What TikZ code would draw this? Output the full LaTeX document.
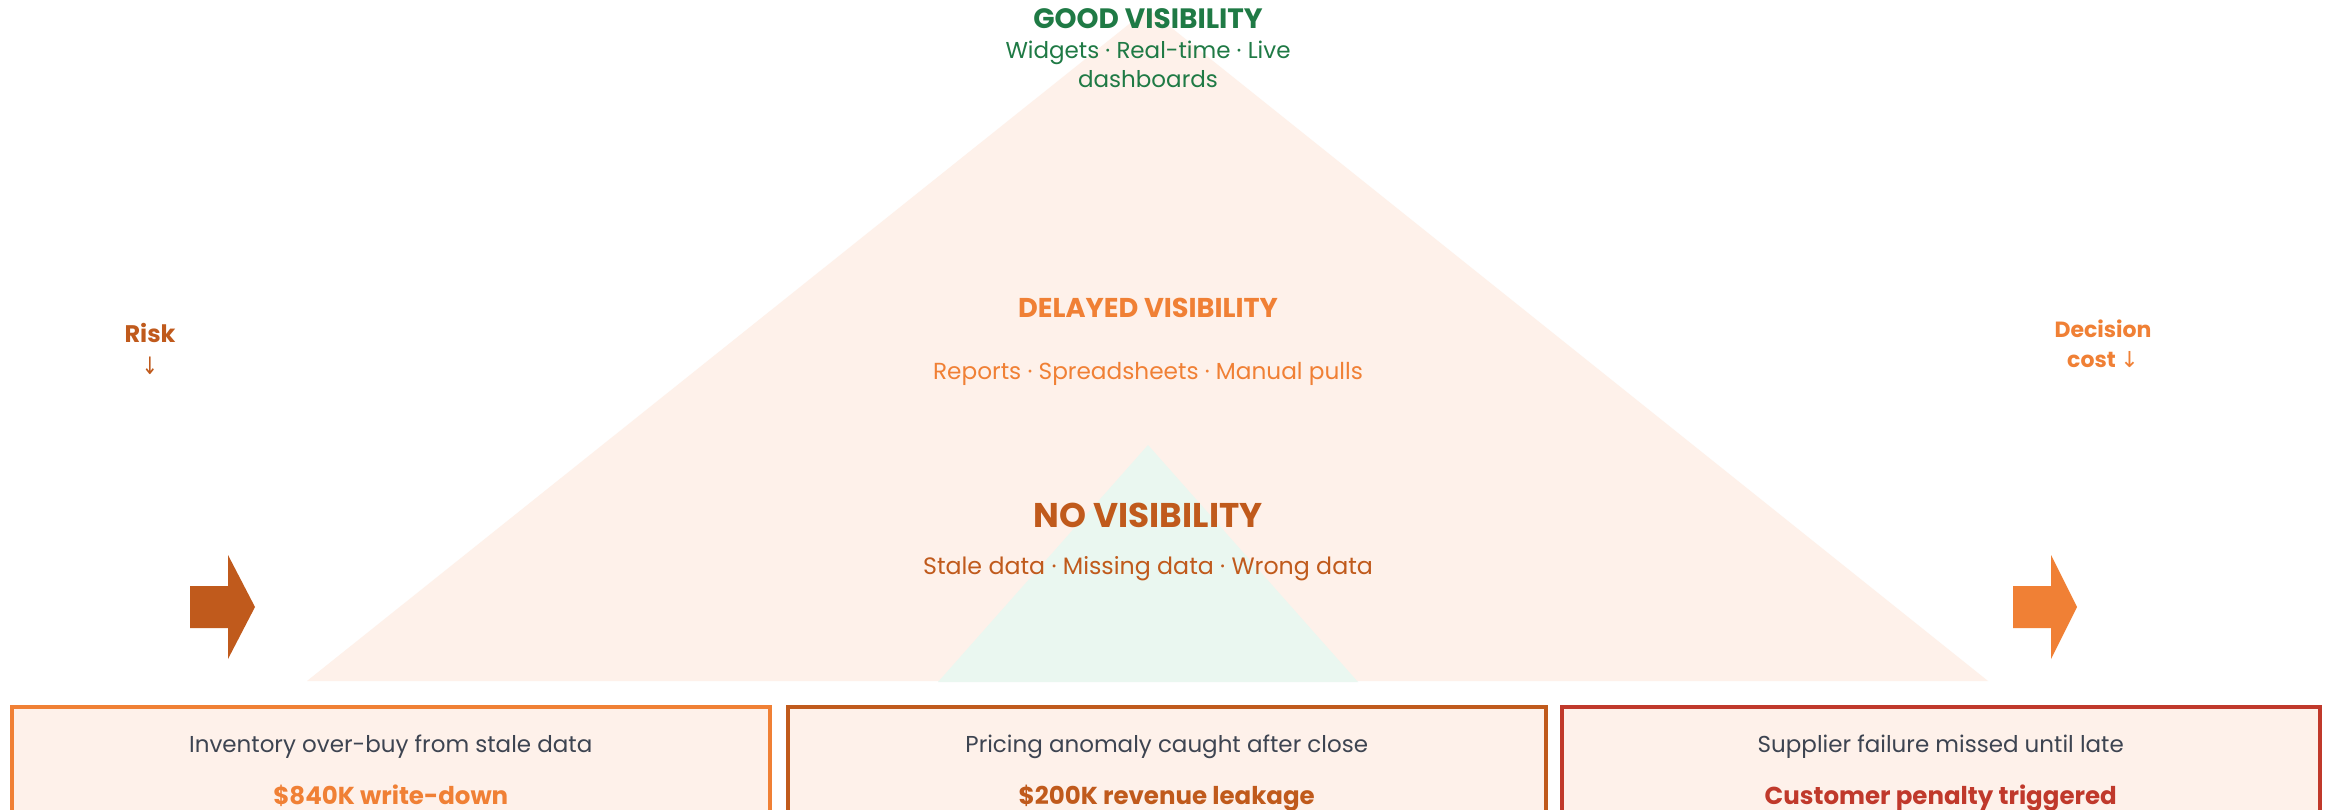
\documentclass[tikz,border=0pt]{standalone}
\usepackage{fontspec}
\setmainfont{Poppins}
\newfontfamily\arrowfont{DejaVu Sans}
\definecolor{peach}{HTML}{FEF1EA}
\definecolor{mint}{HTML}{EAF7F0}
\definecolor{goodgreen}{HTML}{1F7A45}
\definecolor{midorange}{HTML}{F08035}
\definecolor{darkorange}{HTML}{C05A1C}
\definecolor{alertred}{HTML}{C0392B}
\definecolor{bodygray}{HTML}{3D4451}
\newcommand{\fsz}[1]{\fontsize{#1}{1.2\dimexpr #1pt\relax}\selectfont}
\tikzset{
  lbl/.style={inner sep=0pt, anchor=base, align=center},
  impactbox/.style={draw, line width=3.5pt, fill=peach, minimum width=758pt, minimum height=140pt, anchor=north west, inner sep=0pt}
}
\begin{document}
\begin{tikzpicture}[x=1pt,y=-1pt]
\useasboundingbox (0,0) rectangle (2326,810);
\clip (0,0) rectangle (2326,810);
\fill[white] (0,0) rectangle (2326,810);
% pyramid
\fill[peach] (1148,9) -- (1988,681) -- (307,681) -- cycle;
\fill[mint] (1148,445) -- (1358,682) -- (938,682) -- cycle;
% level labels
\node[lbl, text=goodgreen] (goodT) at (1148,29) {\fsz{28}\bfseries GOOD VISIBILITY};
\node[lbl, text=goodgreen] (goodS) at (1148,59) {\fsz{23}Widgets · Real-time · Live};
\node[lbl, text=goodgreen] (goodS2) at (1148,88) {\fsz{23}dashboards};
\node[lbl, text=midorange] (delT) at (1148,317) {\fsz{27.2}\bfseries DELAYED VISIBILITY};
\node[lbl, text=midorange] (delS) at (1148,379) {\fsz{23.2}Reports · Spreadsheets · Manual pulls};
\node[lbl, text=darkorange] (noT) at (1148,527) {\fsz{34.3}\bfseries NO VISIBILITY};
\node[lbl, text=darkorange] (noS) at (1148,574) {\fsz{23.7}Stale data · Missing data · Wrong data};
% side labels
\node[lbl, text=darkorange] (risk) at (150,342) {\fsz{24}\bfseries Risk};
\node[lbl, text=darkorange] (riskA) at (150,374) {\fsz{24}\arrowfont\addfontfeature{FakeStretch=0.8}↓};
\node[lbl, text=midorange] (dec) at (2103,337) {\fsz{22}\bfseries Decision};
\node[lbl, text=midorange] (dec2) at (2103,367) {\fsz{22}\bfseries cost {\arrowfont\mdseries ↓}};
% block arrows
\fill[darkorange] (190,586) -- (228,586) -- (228,555) -- (255,607) -- (228,659) -- (228,628) -- (190,628) -- cycle;
\fill[midorange] (2013,586) -- (2051,586) -- (2051,555) -- (2077,607) -- (2051,659) -- (2051,628) -- (2013,628) -- cycle;
% impact boxes
\node[impactbox, draw=midorange] (b1) at (10,705) {};
\node[impactbox, draw=darkorange] (b2) at (786,705) {};
\node[impactbox, draw=alertred] (b3) at (1560,705) {};
\node[lbl, text=bodygray] (b1a) at ([yshift=-47pt]b1.north) {\fsz{23}Inventory over-buy from stale data};
\node[lbl, text=midorange] (b1b) at ([yshift=-99pt]b1.north) {\fsz{24.5}\bfseries \$840K write-down};
\node[lbl, text=bodygray] (b2a) at ([yshift=-47pt]b2.north) {\fsz{23}Pricing anomaly caught after close};
\node[lbl, text=darkorange] (b2b) at ([yshift=-99pt]b2.north) {\fsz{24.5}\bfseries \$200K revenue leakage};
\node[lbl, text=bodygray] (b3a) at ([yshift=-47pt]b3.north) {\fsz{23}Supplier failure missed until late};
\node[lbl, text=alertred] (b3b) at ([yshift=-99pt]b3.north) {\fsz{24.5}\bfseries Customer penalty triggered};
\end{tikzpicture}
\end{document}
